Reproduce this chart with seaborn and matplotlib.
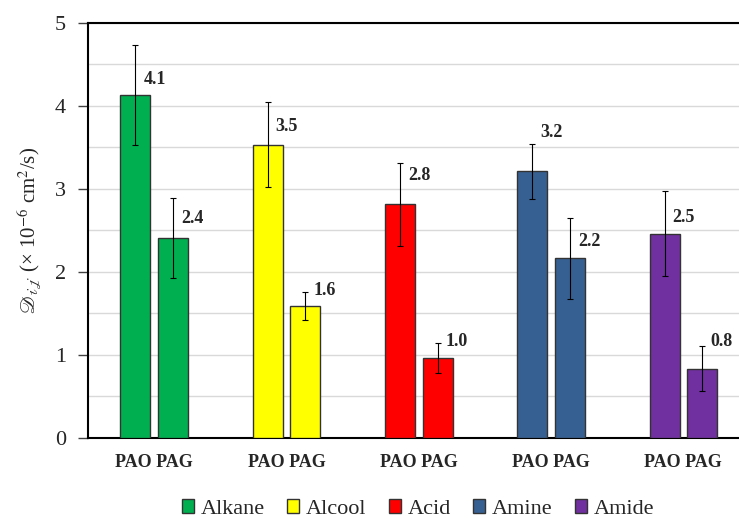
import matplotlib
matplotlib.use("Agg")
import matplotlib.pyplot as plt
from matplotlib.patches import Patch
import seaborn as sns
import pandas as pd

# Diffusion coefficients of solute families in two base oils
categories = ["Alkane", "Alcool", "Acid", "Amine", "Amide"]
lubricants = ["PAO", "PAG"]
pao_values = [4.13, 3.53, 2.81, 3.21, 2.46]
pag_values = [2.41, 1.59, 0.96, 2.16, 0.83]
pao_errors = [0.60, 0.51, 0.50, 0.33, 0.51]
pag_errors = [0.48, 0.17, 0.18, 0.49, 0.27]
colors = ["#00B050", "#FFFF00", "#FF0000", "#376092", "#7030A0"]
group_tick_labels = ["PAO PAG"] * len(categories)

# vertical nudge (pixels) of each value label above its bar, per category
pao_label_lift = [15, 18, 29, 39, 16]
pag_label_lift = [19, 15, 17, 17, 27]

sns.set_style("white")
plt.rcParams["font.family"] = ["Liberation Serif", "DejaVu Serif"]
plt.rcParams["mathtext.fontset"] = "stix"

df = pd.DataFrame({
    "category": categories * 2,
    "lubricant": ["PAO"] * len(categories) + ["PAG"] * len(categories),
    "value": pao_values + pag_values,
})

fig = plt.figure(figsize=(7.39, 5.18), dpi=100)
ax = fig.add_axes([88 / 739, (518 - 437.7) / 518, 661.5 / 739, 415 / 518])

sns.barplot(data=df, x="category", y="value", hue="lubricant",
            order=categories, hue_order=lubricants,
            width=0.567, gap=0.2, errorbar=None, legend=False,
            edgecolor="#333333", linewidth=1.0, ax=ax)

px2pt = 72 / 100
for p in ax.patches:
    xc = p.get_x() + p.get_width() / 2
    idx = int(round(xc))
    is_pao = xc < idx
    p.set_facecolor(colors[idx])
    p.set_zorder(3)
    val = pao_values[idx] if is_pao else pag_values[idx]
    err = pao_errors[idx] if is_pao else pag_errors[idx]
    lift = pao_label_lift[idx] if is_pao else pag_label_lift[idx]
    ax.errorbar(xc, val, yerr=err, fmt="none", ecolor="black",
                elinewidth=0.8, capsize=2.5, capthick=0.8, zorder=4)
    ax.annotate(f"{val:.1f}", xy=(xc, val), xytext=(8 * px2pt, lift * px2pt),
                textcoords="offset points", ha="left", va="center",
                fontsize=13, fontweight="bold", zorder=5)

ax.set_xlim(-0.5, len(categories) - 0.5)
ax.set_ylim(0, 5)
ax.set_yticks(range(0, 6))
ax.set_yticks([v + 0.5 for v in range(0, 5)], minor=True)
ax.grid(axis="y", which="both", color="#d9d9d9", linewidth=1, zorder=0)
ax.set_axisbelow(True)

ax.set_xticks(range(len(categories)))
ax.set_xticklabels(group_tick_labels, fontsize=13, fontweight="bold")
ax.tick_params(axis="x", length=0, pad=12)
ax.tick_params(axis="y", which="major", length=7, width=1, color="#404040",
               labelsize=16, pad=9, left=True)
ax.tick_params(axis="y", which="minor", length=0)
ax.set_xlabel("")
ax.set_ylabel(r"$\mathscr{D}_{\mathscr{ij}}$ (× 10$^{-6}$ cm$^{2}$/s)",
              fontsize=15, labelpad=8)

for side in ["left", "top", "bottom"]:
    ax.spines[side].set_visible(True)
    ax.spines[side].set_color("black")
    ax.spines[side].set_linewidth(1.5)
ax.spines["right"].set_visible(False)

handles = [Patch(facecolor=c, edgecolor="#333333", linewidth=1.0) for c in colors]
fig.legend(handles, categories, loc="center", ncol=5, frameon=False,
           bbox_to_anchor=(418 / 739, 1 - 509 / 518), fontsize=16,
           handlelength=0.55, handleheight=0.55, handletextpad=0.3,
           columnspacing=1.0, borderaxespad=0)

fig.savefig("out.png", dpi=100)
